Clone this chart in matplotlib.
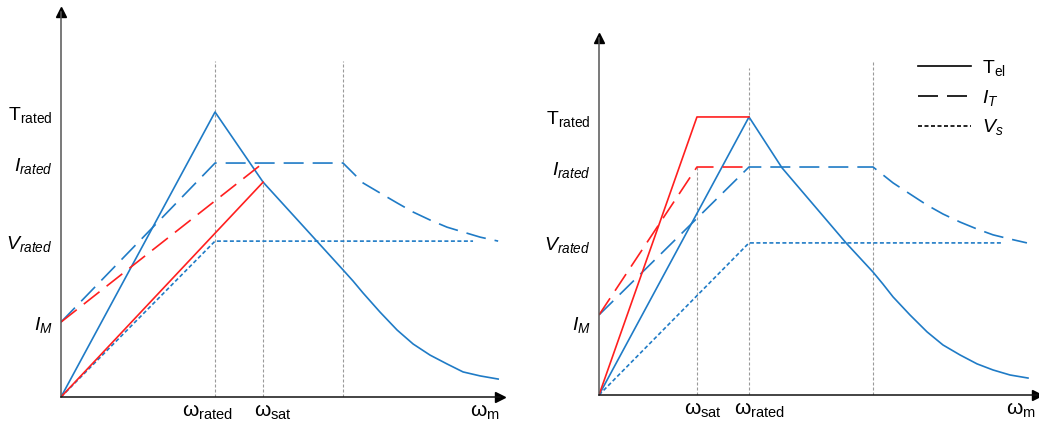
import matplotlib.pyplot as plt
from matplotlib.lines import Line2D

plt.rcParams['font.family'] = ['Liberation Sans', 'DejaVu Sans']
plt.rcParams['mathtext.fontset'] = 'custom'
plt.rcParams['mathtext.rm'] = 'Liberation Sans'
plt.rcParams['mathtext.it'] = 'Liberation Sans:italic'

BLUE = '#1f7bc6'
RED = '#ff1f1f'
GUIDE = '#9a9a9a'

# --- left panel: saturation above rated speed (per-unit, x: w/w_rated, y: T/T_rated) ---
L_t_x = [0, 1.0, 1.312, 1.831, 1.896, 1.961, 2.071, 2.182, 2.286, 2.396, 2.506, 2.610, 2.721, 2.838]
L_t_y = [0, 1.0, 0.754, 0.446, 0.407, 0.365, 0.298, 0.235, 0.186, 0.147, 0.116, 0.088, 0.074, 0.063]
L_i_x = [0, 1.0, 1.831, 1.961, 2.071, 2.182, 2.286, 2.396, 2.506, 2.610, 2.721, 2.838]
L_i_y = [0.263, 0.821, 0.821, 0.751, 0.716, 0.681, 0.649, 0.621, 0.596, 0.579, 0.561, 0.547]
L_v_x = [0, 1.0, 2.675]
L_v_y = [0, 0.547, 0.547]
L_tred_x = [0, 1.312]
L_tred_y = [0, 0.754]
L_ired_x = [0, 1.312]
L_ired_y = [0.263, 0.821]
L_guide_x = [1.0, 1.312, 1.831]
L_guide_top = [1.18, 0.754, 1.18]
L_xticks = [0.948, 1.377, 2.75]
L_xlabels = [r'$\mathrm{ω}_{\mathrm{rated}}$', r'$\mathrm{ω}_{\mathrm{sat}}$', r'$\mathrm{ω}_{\mathrm{m}}$']
L_yticks = [1.0, 0.821, 0.547, 0.263]

# --- right panel: saturation below rated speed ---
R_t_x = [0, 1.0, 1.22, 1.647, 1.827, 1.893, 1.96, 2.073, 2.187, 2.293, 2.407, 2.52, 2.627, 2.74, 2.86]
R_t_y = [0, 1.0, 0.817, 0.547, 0.442, 0.399, 0.353, 0.288, 0.227, 0.180, 0.144, 0.112, 0.090, 0.072, 0.061]
R_i_x = [0, 1.0, 1.827, 1.96, 2.073, 2.187, 2.293, 2.407, 2.52, 2.627, 2.74, 2.853]
R_i_y = [0.288, 0.82, 0.82, 0.763, 0.723, 0.683, 0.651, 0.622, 0.597, 0.576, 0.561, 0.547]
R_v_x = [0, 1.0, 2.687]
R_v_y = [0, 0.547, 0.547]
R_tred_x = [0, 0.653, 1.0]
R_tred_y = [0, 1.0, 1.0]
R_ired_x = [0, 0.653, 1.0]
R_ired_y = [0.288, 0.82, 0.82]
R_guide_x = [0.653, 1.0, 1.827]
R_guide_top = [0.82, 1.176, 1.20]
R_xticks = [0.693, 1.073, 2.81]
R_xlabels = [r'$\mathrm{ω}_{\mathrm{sat}}$', r'$\mathrm{ω}_{\mathrm{rated}}$', r'$\mathrm{ω}_{\mathrm{m}}$']
R_yticks = [1.0, 0.82, 0.547, 0.259]

Y_LABELS = [r'$\mathrm{T}_{\mathrm{rated}}$', r'$I_{rated}$', r'$V_{rated}$', r'$I_M$']

LS_I = (0, (12, 5.4))
LS_V = (0, (2.4, 1.5))
LS_G = (0, (2.7, 1.8))

W, H = 1039, 422
fig = plt.figure(figsize=(W / 100, H / 100), dpi=100)


def panel(rect, xmax, ymax, t, i, v, tred, ired, gx, gtop, xt, xl, yt):
    ax = fig.add_axes(rect)
    ax.set_xlim(0, xmax)
    ax.set_ylim(0, ymax)
    for s in ('top', 'right'):
        ax.spines[s].set_visible(False)
    ax.spines['left'].set_color('#555555')
    ax.spines['bottom'].set_color('#111111')
    ax.spines['left'].set_linewidth(1.1)
    ax.spines['bottom'].set_linewidth(1.1)
    ax.plot(0, 1, marker='^', color='k', ms=7, transform=ax.transAxes, clip_on=False)
    ax.plot(1, 0, marker='>', color='k', ms=7, transform=ax.transAxes, clip_on=False)

    for x, top in zip(gx, gtop):
        ax.plot([x, x], [0, top], color=GUIDE, lw=0.8, ls=LS_G, zorder=1)

    ax.plot(*v, color=BLUE, lw=1.2, ls=LS_V)
    ax.plot(*i, color=BLUE, lw=1.2, ls=LS_I)
    ax.plot(*t, color=BLUE, lw=1.2)
    ax.plot(*ired, color=RED, lw=1.2, ls=LS_I)
    ax.plot(*tred, color=RED, lw=1.2)

    ax.set_xticks(xt, xl, fontsize=15)
    ax.set_yticks(yt, Y_LABELS, fontsize=14)
    ax.tick_params(length=0)
    ax.tick_params(axis='y', pad=6)
    ax.tick_params(axis='x', pad=4)
    return ax


panel([61 / W, 25 / H, 439 / W, 385 / H], 2.85, 1.351,
      (L_t_x, L_t_y), (L_i_x, L_i_y), (L_v_x, L_v_y),
      (L_tred_x, L_tred_y), (L_ired_x, L_ired_y),
      L_guide_x, L_guide_top, L_xticks, L_xlabels, L_yticks)

panel([599 / W, 27 / H, 438 / W, 357 / H], 2.92, 1.284,
      (R_t_x, R_t_y), (R_i_x, R_i_y), (R_v_x, R_v_y),
      (R_tred_x, R_tred_y), (R_ired_x, R_ired_y),
      R_guide_x, R_guide_top, R_xticks, R_xlabels, R_yticks)

handles = [Line2D([], [], color='k', lw=1.2),
           Line2D([], [], color='k', lw=1.2, ls=LS_I),
           Line2D([], [], color='k', lw=1.2, ls=LS_V)]
labels = [r'$\mathrm{T}_{\mathrm{el}}$', r'$I_T$', r'$V_s$']
fig.legend(handles, labels, loc='upper left', bbox_to_anchor=(918 / W, 1 - 58 / H),
           frameon=False, fontsize=14, handlelength=2.7, handletextpad=0.6,
           labelspacing=0.5, borderpad=0, borderaxespad=0)

fig.savefig('out.png', dpi=100)
